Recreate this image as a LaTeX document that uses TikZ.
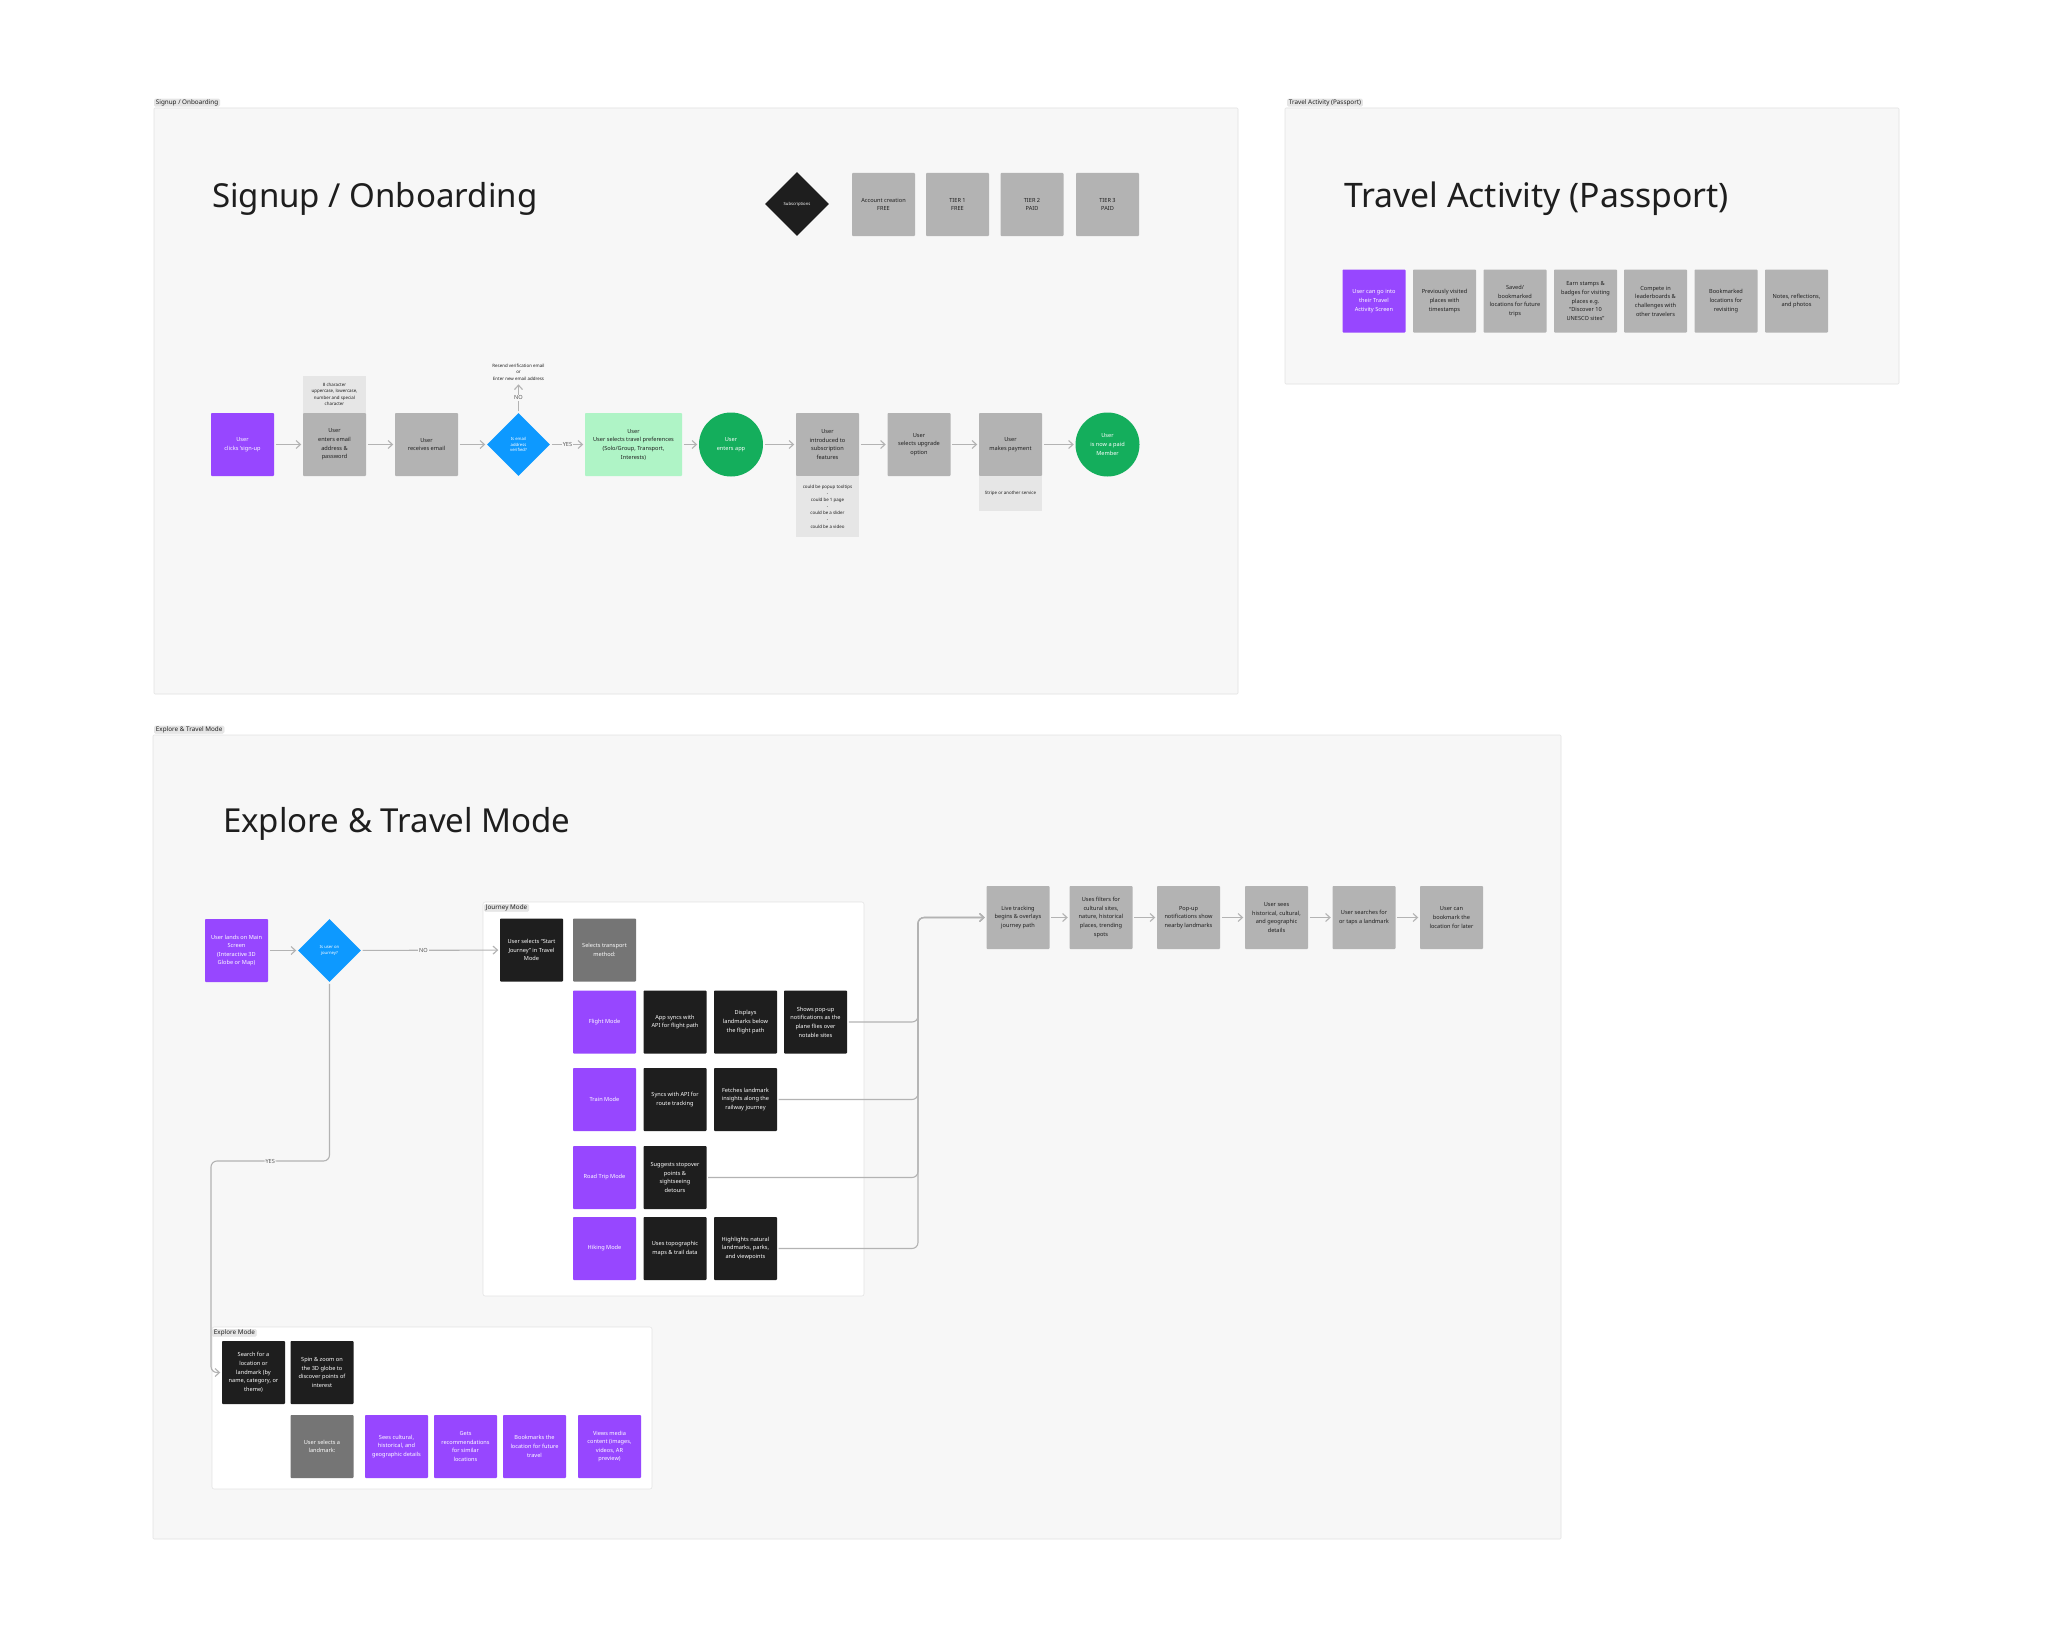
\documentclass[tikz,border=0pt]{standalone}
\usepackage{fontspec}
\setmainfont{Noto Sans}
\usetikzlibrary{positioning, arrows.meta, shapes.geometric}

\definecolor{panelbg}{HTML}{F7F7F7}
\definecolor{panelline}{HTML}{E3E3E3}
\definecolor{tagbg}{HTML}{E6E6E6}
\definecolor{ink}{HTML}{1E1E1E}
\definecolor{boxgray}{HTML}{B3B3B3}
\definecolor{darkgray}{HTML}{757575}
\definecolor{notegray}{HTML}{E6E6E6}
\definecolor{figpurple}{HTML}{9747FF}
\definecolor{figblue}{HTML}{0D99FF}
\definecolor{figgreen}{HTML}{14AE5C}
\definecolor{lightgreen}{HTML}{AFF4C6}
\definecolor{flowline}{HTML}{B3B3B3}

\tikzset{
  card/.style={rectangle, rounded corners=1.2pt, minimum width=31.5mm, minimum height=31.5mm, inner sep=1pt, align=center, text=ink, font=\fontsize{8}{12.3}\selectfont},
  graycard/.style={card, fill=boxgray},
  purplecard/.style={card, fill=figpurple, text=white},
  blackcard/.style={card, fill=ink, text=white},
  darkcard/.style={card, fill=darkgray, text=white},
  note/.style={rectangle, fill=notegray, minimum width=31.5mm, inner sep=1pt, align=center, text=ink, font=\fontsize{6.3}{9.3}\selectfont},
  decision/.style={diamond, fill=figblue, minimum width=31.5mm, minimum height=31.5mm, inner sep=0pt, align=center, text=white, font=\fontsize{6}{7.5}\selectfont},
  goal/.style={circle, fill=figgreen, minimum size=32mm, inner sep=0pt, align=center, text=white, font=\fontsize{8}{12.3}\selectfont},
  flow/.style={draw=flowline, line width=1.6pt, -{Straight Barb[length=2.2mm, width=4mm]}, shorten <=0.8mm, shorten >=0.8mm},
  lab/.style={fill=panelbg, inner sep=1.5pt, text=ink!75, font=\fontsize{8}{9}\selectfont},
  tag/.style={rectangle, rounded corners=2pt, fill=tagbg, draw=panelline, inner xsep=2.5pt, inner ysep=0.8pt, text=ink, font=\fontsize{9}{10}\selectfont},
  panel/.style={fill=panelbg, draw=panelline, line width=0.8pt, rounded corners=1.5pt},
  subpanel/.style={fill=white, draw=panelline, line width=0.8pt, rounded corners=3pt},
  heading/.style={anchor=west, inner sep=0pt, text=ink, font=\fontsize{47}{52}\selectfont}
}

\begin{document}
\begin{tikzpicture}[x=0.5mm, y=-0.5mm]
  \useasboundingbox (0,0) rectangle (2048,1648);
  \fill[white] (0,0) rectangle (2048,1648);

  % Draw panels and their tags
  \draw[panel] (154,108) rectangle (1238,694);
  \draw[panel] (1285,108) rectangle (1899,384);
  \draw[panel] (153,735) rectangle (1561,1539);
  \node[tag, anchor=south west] (signuptag) at (154,106.5) {Signup / Onboarding};
  \node[tag, anchor=south west] (traveltag) at (1287,106.5) {Travel Activity (Passport)};
  \node[tag, anchor=south west] (exploretag) at (154,733.5) {Explore \& Travel Mode};

  % Headings
  \node[heading] (signuptitle) at (212,199) {Signup / Onboarding};
  \node[heading, font=\fontsize{48}{52}\selectfont] (traveltitle) at (1344,199) {Travel Activity (Passport)};
  \node[heading] (exploretitle) at (223,824) {Explore \& Travel Mode};

  % Subscription legend
  \node[decision, fill=ink, minimum width=32mm, minimum height=32mm] (subs) at (797,204) {Subscriptions};
  \foreach \i/\x/\t in {1/883.5/{Account creation\\\textbf{FREE}}, 2/957.5/{TIER 1\\\textbf{FREE}}, 3/1032/{TIER 2\\\textbf{PAID}}, 4/1107.5/{TIER 3\\\textbf{PAID}}}
    \node[graycard] (tier\i) at (\x,204.5) {\t};

  % Signup flow
  \node[purplecard] (signup) at (242.5,444.5) {\textbf{User}\\clicks 'sign-up};
  \node[graycard] (credentials) at (334.5,444.5) {\textbf{User}\\enters email\\address \&\\password};
  \node[note, minimum height=18.5mm, anchor=south] (pwrule) at (credentials.north) {8 character\\uppercase, lowercase,\\number and special\\character};
  \node[graycard] (inbox) at (426.5,444.5) {\textbf{User}\\receives email};
  \node[decision] (verified) at (518.5,444.5) {Is email\\address\\verified?};
  \node[align=center, text=ink, font=\fontsize{6.3}{9.3}\selectfont] (resend) at (518.5,372) {Resend verification email\\or\\Enter new email address};
  \node[card, fill=lightgreen, minimum width=48.5mm] (prefs) at (633.5,444.5) {\textbf{User}\\User selects travel preferences\\(Solo/Group, Transport,\\Interests)};
  \node[goal] (entersapp) at (731,444.5) {\textbf{User}\\enters app};
  \node[graycard] (intro) at (827.5,444.5) {\textbf{User}\\introduced to\\subscription\\features};
  \node[note, minimum height=30.5mm, anchor=north] (introidea) at (intro.south) {could be popup tooltips\\-\\could be 1 page\\-\\could be a slider\\-\\could be a video};
  \node[graycard] (upgrade) at (919,444.5) {\textbf{User}\\selects upgrade\\option};
  \node[graycard] (payment) at (1010.5,444.5) {\textbf{User}\\makes payment};
  \node[note, minimum height=17.5mm, anchor=north] (stripe) at (payment.south) {Stripe or another service};
  \node[goal] (member) at (1107.5,444.5) {\textbf{User}\\is now a paid\\\textbf{Member}};

  \foreach \a/\b in {signup/credentials, credentials/inbox, inbox/verified, prefs/entersapp, entersapp/intro, intro/upgrade, upgrade/payment, payment/member}
    \draw[flow] (\a) -- (\b);
  \draw[flow] (verified) -- node[lab] {YES} (prefs);
  \draw[flow] (verified) -- node[lab] {NO} (resend);

  % Travel activity cards
  \node[purplecard] (passport) at (1374,301) {User can go into\\their Travel\\Activity Screen};
  \foreach \i/\x/\t in {1/1444.5/{Previously visited\\places with\\timestamps}, 2/1515/{Saved/\\bookmarked\\locations for future\\trips}, 3/1585.5/{Earn stamps \&\\badges for visiting\\places e.g.\\``Discover 10\\UNESCO sites''}, 4/1655.5/{Compete in\\leaderboards \&\\challenges with\\other travelers}, 5/1726/{Bookmarked\\locations for\\revisiting}, 6/1796.5/{Notes, reflections,\\and photos}}
    \node[graycard] (activity\i) at (\x,301) {\t};

  % Explore entry
  \node[purplecard] (mainscreen) at (236.5,950.5) {User lands on Main\\Screen\\(Interactive 3D\\Globe or Map)};
  \node[decision] (injourney) at (329.5,950.5) {Is user on\\journey?};

  % Journey mode
  \draw[subpanel] (483,902) rectangle (864,1296);
  \node[tag, anchor=north west] (journeytag) at (484,904) {Journey Mode};
  \node[blackcard] (startjourney) at (531.5,950) {User selects ``Start\\Journey'' in Travel\\Mode};
  \node[darkcard] (transport) at (604.5,950) {Selects transport\\method:};
  \foreach \i/\y/\t in {1/1022/Flight Mode, 2/1099.5/Train Mode, 3/1177.5/Road Trip Mode, 4/1248.5/Hiking Mode}
    \node[purplecard] (mode\i) at (604.5,\y) {\t};
  \foreach \n/\x/\y/\t in {flight1/675/1022/{App syncs with\\API for flight path}, flight2/745.5/1022/{Displays\\landmarks below\\the flight path}, flight3/815.5/1022/{Shows pop-up\\notifications as the\\plane flies over\\notable sites}, train1/675/1099.5/{Syncs with API for\\route tracking}, train2/745.5/1099.5/{Fetches landmark\\insights along the\\railway journey}, road1/675/1177.5/{Suggests stopover\\points \&\\sightseeing\\detours}, hike1/675/1248.5/{Uses topographic\\maps \& trail data}, hike2/745.5/1248.5/{Highlights natural\\landmarks, parks,\\and viewpoints}}
    \node[blackcard] (\n) at (\x,\y) {\t};

  % Live tracking row
  \foreach \i/\x/\t in {1/1018/{Live tracking\\begins \& overlays\\journey path}, 2/1101/{Uses filters for\\cultural sites,\\nature, historical\\places, trending\\spots}, 3/1188.5/{Pop-up\\notifications show\\nearby landmarks}, 4/1276.5/{User sees\\historical, cultural,\\and geographic\\details}, 5/1364/{User searches for\\or taps a landmark}, 6/1451.5/{User can\\bookmark the\\location for later}}
    \node[graycard] (track\i) at (\x,917.5) {\t};
  \foreach \a/\b in {1/2, 2/3, 3/4, 4/5, 5/6}
    \draw[flow] (track\a) -- (track\b);

  % Explore mode
  \draw[subpanel] (212,1327) rectangle (652,1489);
  \node[tag, anchor=north west] (exploremodetag) at (212,1329) {Explore Mode};
  \node[blackcard] (search) at (253.5,1372.5) {Search for a\\location or\\landmark (by\\name, category, or\\theme)};
  \node[blackcard] (spin) at (322,1372.5) {Spin \& zoom on\\the 3D globe to\\discover points of\\interest};
  \node[darkcard] (pick) at (322,1446.5) {User selects a\\landmark:};
  \foreach \i/\x/\t in {1/396.5/{Sees cultural,\\historical, and\\geographic details}, 2/465.5/{Gets\\recommendations\\for similar\\locations}, 3/534.5/{Bookmarks the\\location for future\\travel}, 4/609.5/{Views media\\content (images,\\videos, AR\\preview)}}
    \node[purplecard] (detail\i) at (\x,1446.5) {\t};

  % Connectors of the explore section
  \coordinate (trunk) at (918,917.5);
  \coordinate (yesbend) at (211,1161);
  \draw[flow] (mainscreen) -- (injourney);
  \draw[flow] (injourney) -- node[lab, pos=0.45] {NO} (startjourney);
  \draw[flow, rounded corners=3mm] (injourney.south) |- node[lab, pos=0.75] {YES} (yesbend) |- (search.west);
  \foreach \n in {flight3, train2, road1, hike2}
    \draw[flow, rounded corners=3mm] (\n.east) -| (trunk) -- (track1.west);
\end{tikzpicture}
\end{document}
